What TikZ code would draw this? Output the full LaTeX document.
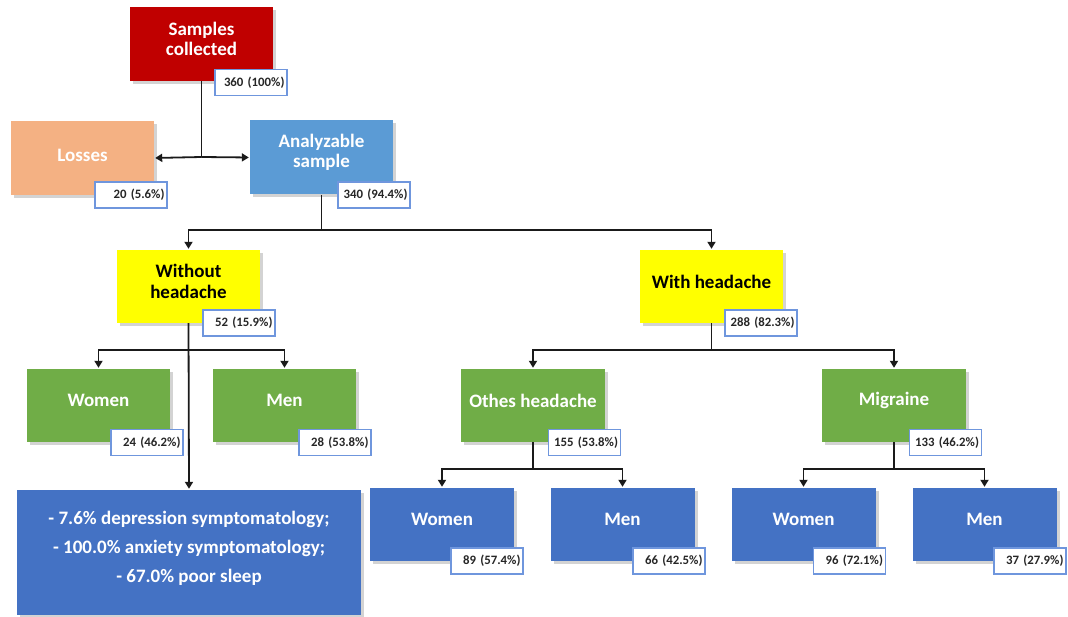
\documentclass[tikz,border=0pt]{standalone}
\usepackage{fontspec}
\setmainfont{Carlito}
\usetikzlibrary{arrows.meta,shadows}
\definecolor{cred}{HTML}{C00000}
\definecolor{closs}{HTML}{F4B183}
\definecolor{canal}{HTML}{5B9BD5}
\definecolor{cyel}{HTML}{FFFF00}
\definecolor{cgreen}{HTML}{70AD47}
\definecolor{cblue}{HTML}{4472C4}
\definecolor{clab}{HTML}{6F96DD}
\definecolor{cline}{HTML}{1A1A1A}
\begin{document}
\begin{tikzpicture}[x=1pt,y=-1pt,
  box/.style={rectangle, minimum width=143pt, minimum height=74pt, inner sep=0pt,
    drop shadow={shadow xshift=3pt, shadow yshift=-3pt, opacity=0.35, fill=gray}},
  btext/.style={yshift=5pt, align=center, inner sep=0pt,
    font=\bfseries\fontsize{19}{20.5}\selectfont, text=white},
  lab/.style={rectangle, draw=clab, line width=1.5pt, fill=white, minimum width=72pt, minimum height=26pt,
    inner sep=2pt, text width=67pt, align=right, font=\bfseries\fontsize{12.8}{14}\selectfont, text=black!85},
  conn/.style={draw=cline, line width=1.8pt},
  arr/.style={conn, -{Triangle[length=7pt,width=8pt]}, shorten >=1pt}]
\useasboundingbox (0,0) rectangle (1068,617);
% junction coordinates
\coordinate (j1) at (201.5,157);
\coordinate (j2) at (321.5,230);
\coordinate (j3) at (188.5,350);
\coordinate (j4) at (711.5,350);
\coordinate (j5) at (533,469);
\coordinate (j6) at (894,469);
% boxes
\node[box, fill=cred, label={[btext]center:{Samples\\collected}}] (sc) at (201.5,44) {};
\node[box, fill=closs, label={[btext, yshift=-2pt]center:Losses}] (loss) at (82.5,158) {};
\node[box, fill=canal, label={[btext]center:{Analyzable\\sample}}] (anal) at (321.5,157.5) {};
\node[box, fill=cyel, minimum height=73pt, label={[btext, text=black]center:{Without\\headache}}] (wo) at (188.5,286.5) {};
\node[box, fill=cyel, minimum height=73pt, label={[btext, text=black]center:{With headache}}] (wh) at (711.5,286.5) {};
\node[box, fill=cgreen, minimum height=73pt, label={[btext]center:Women}] (w1) at (98.5,405.5) {};
\node[box, fill=cgreen, minimum height=73pt, label={[btext]center:Men}] (m1) at (284.5,405.5) {};
\node[box, fill=cgreen, minimum width=144pt, minimum height=73pt, label={[btext]center:Othes headache}] (oth) at (533,405.5) {};
\node[box, fill=cgreen, minimum width=144pt, minimum height=73pt, label={[btext]center:Migraine}] (mig) at (894,405.5) {};
\node[box, fill=cblue, minimum width=344pt, minimum height=125pt,
  label={[btext, yshift=-1pt, font=\bfseries\fontsize{19}{29}\selectfont]center:{- 7.6\% depression symptomatology;\\- 100.0\% anxiety symptomatology;\\- 67.0\% poor sleep}}] (bot) at (189,552.5) {};
\node[box, fill=cblue, minimum width=144pt, minimum height=73pt, label={[btext]center:Women}] (bw1) at (442,524.5) {};
\node[box, fill=cblue, minimum width=144pt, minimum height=73pt, label={[btext]center:Men}] (bm1) at (622.5,524.5) {};
\node[box, fill=cblue, minimum width=144pt, minimum height=73pt, label={[btext]center:Women}] (bw2) at (803.5,524.5) {};
\node[box, fill=cblue, minimum width=144pt, minimum height=73pt, label={[btext]center:Men}] (bm2) at (984.5,524.5) {};
% connectors
\draw[conn] (sc.south) -- (j1);
\draw[arr] (j1) -- (loss.east);
\draw[arr] (j1) -- (anal.west);
\draw[conn] (anal.south) -- (j2);
\draw[arr] (j2) -| (wo.north);
\draw[arr] (j2) -| (wh.north);
\draw[arr] (wo.south) -- (bot.north);
\draw[arr] (j3) -| (w1.north);
\draw[arr] (j3) -| (m1.north);
\draw[conn] (wh.south) -- (j4);
\draw[arr] (j4) -| (oth.north);
\draw[arr] (j4) -| (mig.north);
\draw[conn] (oth.south) -- (j5);
\draw[arr] (j5) -| (bw1.north);
\draw[arr] (j5) -| (bm1.north);
\draw[conn] (mig.south) -- (j6);
\draw[arr] (j6) -| (bw2.north);
\draw[arr] (j6) -| (bm2.north);
% labels
\node[lab] (lsc) at (251,82.5) {360 (100\%)};
\node[lab] (lloss) at (131,195) {20 (5.6\%)};
\node[lab] (lanal) at (374,195) {340 (94.4\%)};
\node[lab] (lwo) at (239,323) {52 (15.9\%)};
\node[lab] (lwh) at (761,323) {288 (82.3\%)};
\node[lab] (lw1) at (147,442.5) {24 (46.2\%)};
\node[lab] (lm1) at (335,442.5) {28 (53.8\%)};
\node[lab] (loth) at (584.5,442.5) {155 (53.8\%)};
\node[lab] (lmig) at (945.5,442.5) {133 (46.2\%)};
\node[lab] (lbw1) at (487,561) {89 (57.4\%)};
\node[lab] (lbm1) at (669,561) {66 (42.5\%)};
\node[lab] (lbw2) at (849.5,561) {96 (72.1\%)};
\node[lab] (lbm2) at (1030,561) {37 (27.9\%)};
\end{tikzpicture}
\end{document}
